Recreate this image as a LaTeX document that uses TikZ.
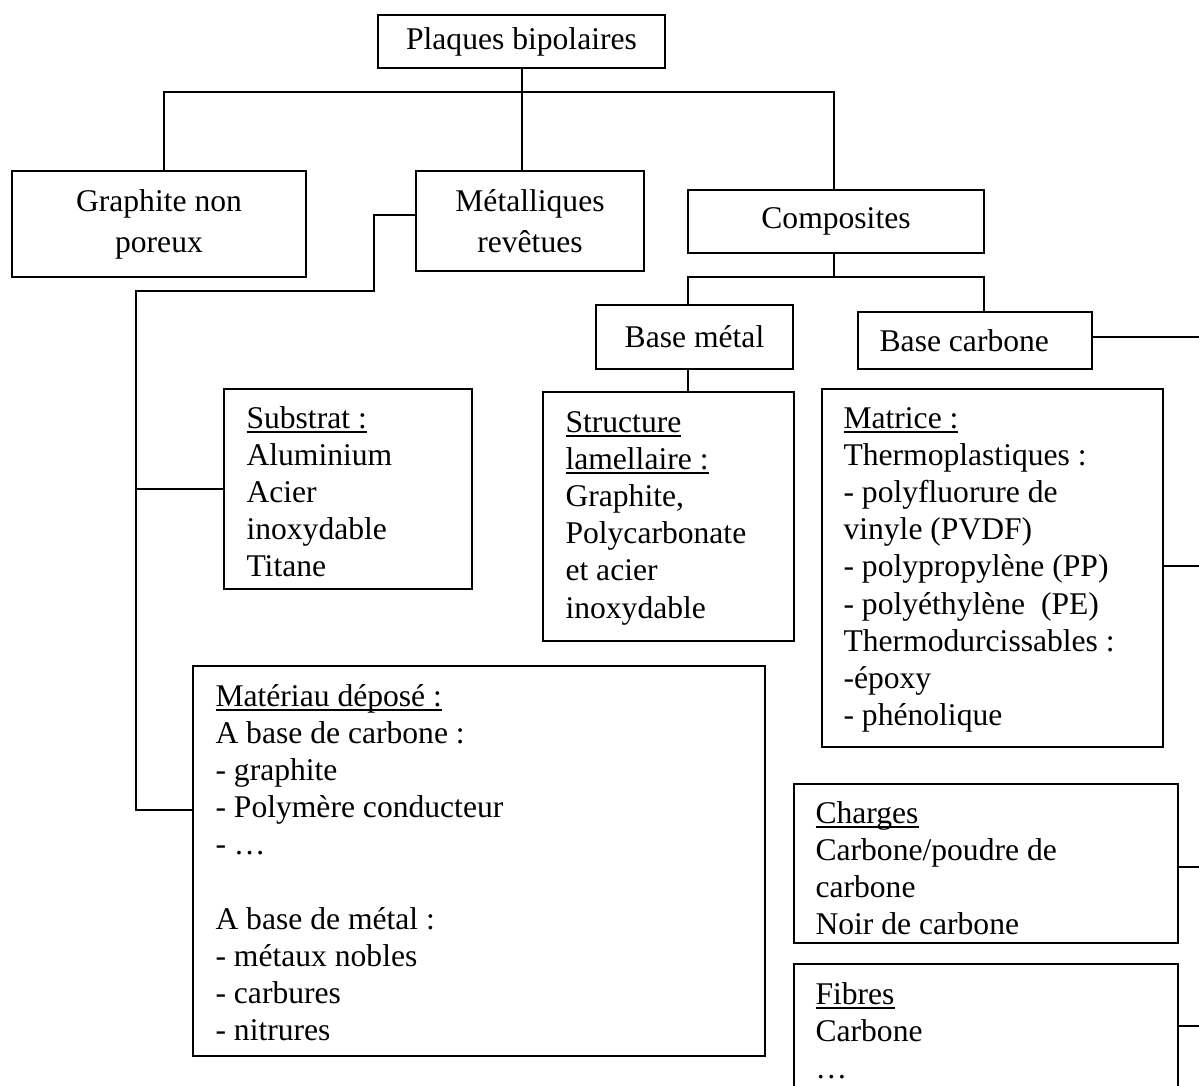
\documentclass[tikz,border=0pt]{standalone}
\usepackage{fontspec}
\setmainfont{Liberation Serif}
\newcommand\ulx[1]{{\setbox0\hbox{#1}\rlap{\rule[-1.7pt]{\wd0}{0.55pt}}\box0}}
\begin{document}
\begin{tikzpicture}[x=0.375pt,y=-0.375pt,
  every node/.style={font=\fontsize{11.85}{13.95}\selectfont},
  bx/.style={draw, line width=0.75pt, inner sep=0pt, rectangle},
  ttl/.style={bx, align=center, font=\fontsize{11.85}{15.4}\selectfont},
  txt/.style={anchor=base west, align=left, inner sep=0pt},
  ln/.style={line width=0.75pt}]
\fill[white] (0,0) rectangle (1199,1086);
\clip (0,0) rectangle (1199,1086);

% title boxes
\node[ttl, minimum width=107.6pt, minimum height=19.9pt, text depth=2pt] (plaques) at (521.5,41.5) {Plaques bipolaires};
\node[ttl, minimum width=110.25pt, minimum height=39.75pt] (graphite) at (159,224) {Graphite non\\poreux};
\node[ttl, minimum width=85.5pt, minimum height=37.5pt] (metal) at (530,221) {Métalliques\\revêtues};
\node[ttl, minimum width=111pt, minimum height=23.6pt] (composites) at (836,221.5) {Composites};
\node[ttl, minimum width=73.9pt, minimum height=24pt] (basemetal) at (694.5,337) {Base métal};
\node[ttl, minimum width=87.75pt, minimum height=21.4pt] (basecarbone) at (975,340.5) {\hspace*{-8pt}Base carbone};

% content boxes
\node[bx, minimum width=93pt, minimum height=75pt] (substrat) at (348,489) {};
\node[txt] (substrat-t) at (246,576.8) {\ulx{Substrat :}\\Aluminium\\Acier\\inoxydable\\Titane};

\node[bx, minimum width=94.1pt, minimum height=93.4pt] (structure) at (668.5,516.5) {};
\node[txt] (structure-t) at (565,618) {\ulx{Structure}\\\ulx{lamellaire :}\\Graphite,\\Polycarbonate\\et acier\\inoxydable};

\node[bx, minimum width=127.9pt, minimum height=134.25pt] (matrice) at (992.5,568) {};
\node[txt] (matrice-t) at (843,725.6) {\ulx{Matrice :}\\Thermoplastiques :\\- polyfluorure de\\vinyle (PVDF)\\- polypropylène (PP)\\- polyéthylène~~(PE)\\Thermodurcissables :\\-époxy\\- phénolique};

\node[bx, minimum width=214.5pt, minimum height=146.25pt] (materiau) at (479,861) {};
\node[txt] (materiau-t) at (215,1040.8) {\ulx{Matériau déposé :}\\A base de carbone :\\- graphite\\- Polymère conducteur\\- …\\[13.95pt]A base de métal :\\- métaux nobles\\- carbures\\- nitrures};

\node[bx, minimum width=144pt, minimum height=59.6pt] (charges) at (986,863.5) {};
\node[txt] (charges-t) at (815,934.6) {\ulx{Charges}\\Carbone/poudre de\\carbone\\Noir de carbone};

\node[bx, minimum width=144pt, minimum height=62.25pt] (fibres) at (986,1047) {};
\node[txt] (fibres-t) at (815,1078.4) {\ulx{Fibres}\\Carbone\\…};

% connectors
\coordinate (jg) at (164,92);
\coordinate (jc) at (834,92);
\draw[ln] (plaques.south) -- (plaques.south |- metal.north);
\draw[ln] (graphite.north -| jg) -- (jg) -- (jc) -- (jc |- composites.north);

\coordinate (jb) at (834,277);
\coordinate (jbl) at (688,277);
\coordinate (jbr) at (984,277);
\draw[ln] (composites.south -| jb) -- (jb);
\draw[ln] (basemetal.north -| jbl) -- (jbl) -- (jbr) -- (basecarbone.north -| jbr);
\draw[ln] (basemetal.south -| jbl) -- (structure.north -| jbl);

\coordinate (r1) at (1210,337);
\coordinate (r2) at (1210,566);
\coordinate (r3) at (1210,867);
\coordinate (r4) at (1210,1026);
\draw[ln] (basecarbone.east |- r1) -- (r1);
\draw[ln] (matrice.east |- r2) -- (r2);
\draw[ln] (charges.east |- r3) -- (r3);
\draw[ln] (fibres.east |- r4) -- (r4);

\coordinate (m1) at (374,215);
\coordinate (m2) at (374,291);
\coordinate (m3) at (136,291);
\coordinate (m4) at (136,810);
\coordinate (m5) at (136,489);
\draw[ln] (metal.west |- m1) -- (m1) -- (m2) -- (m3) -- (m4) -- (materiau.west |- m4);
\draw[ln] (m5) -- (substrat.west |- m5);
\end{tikzpicture}
\end{document}
